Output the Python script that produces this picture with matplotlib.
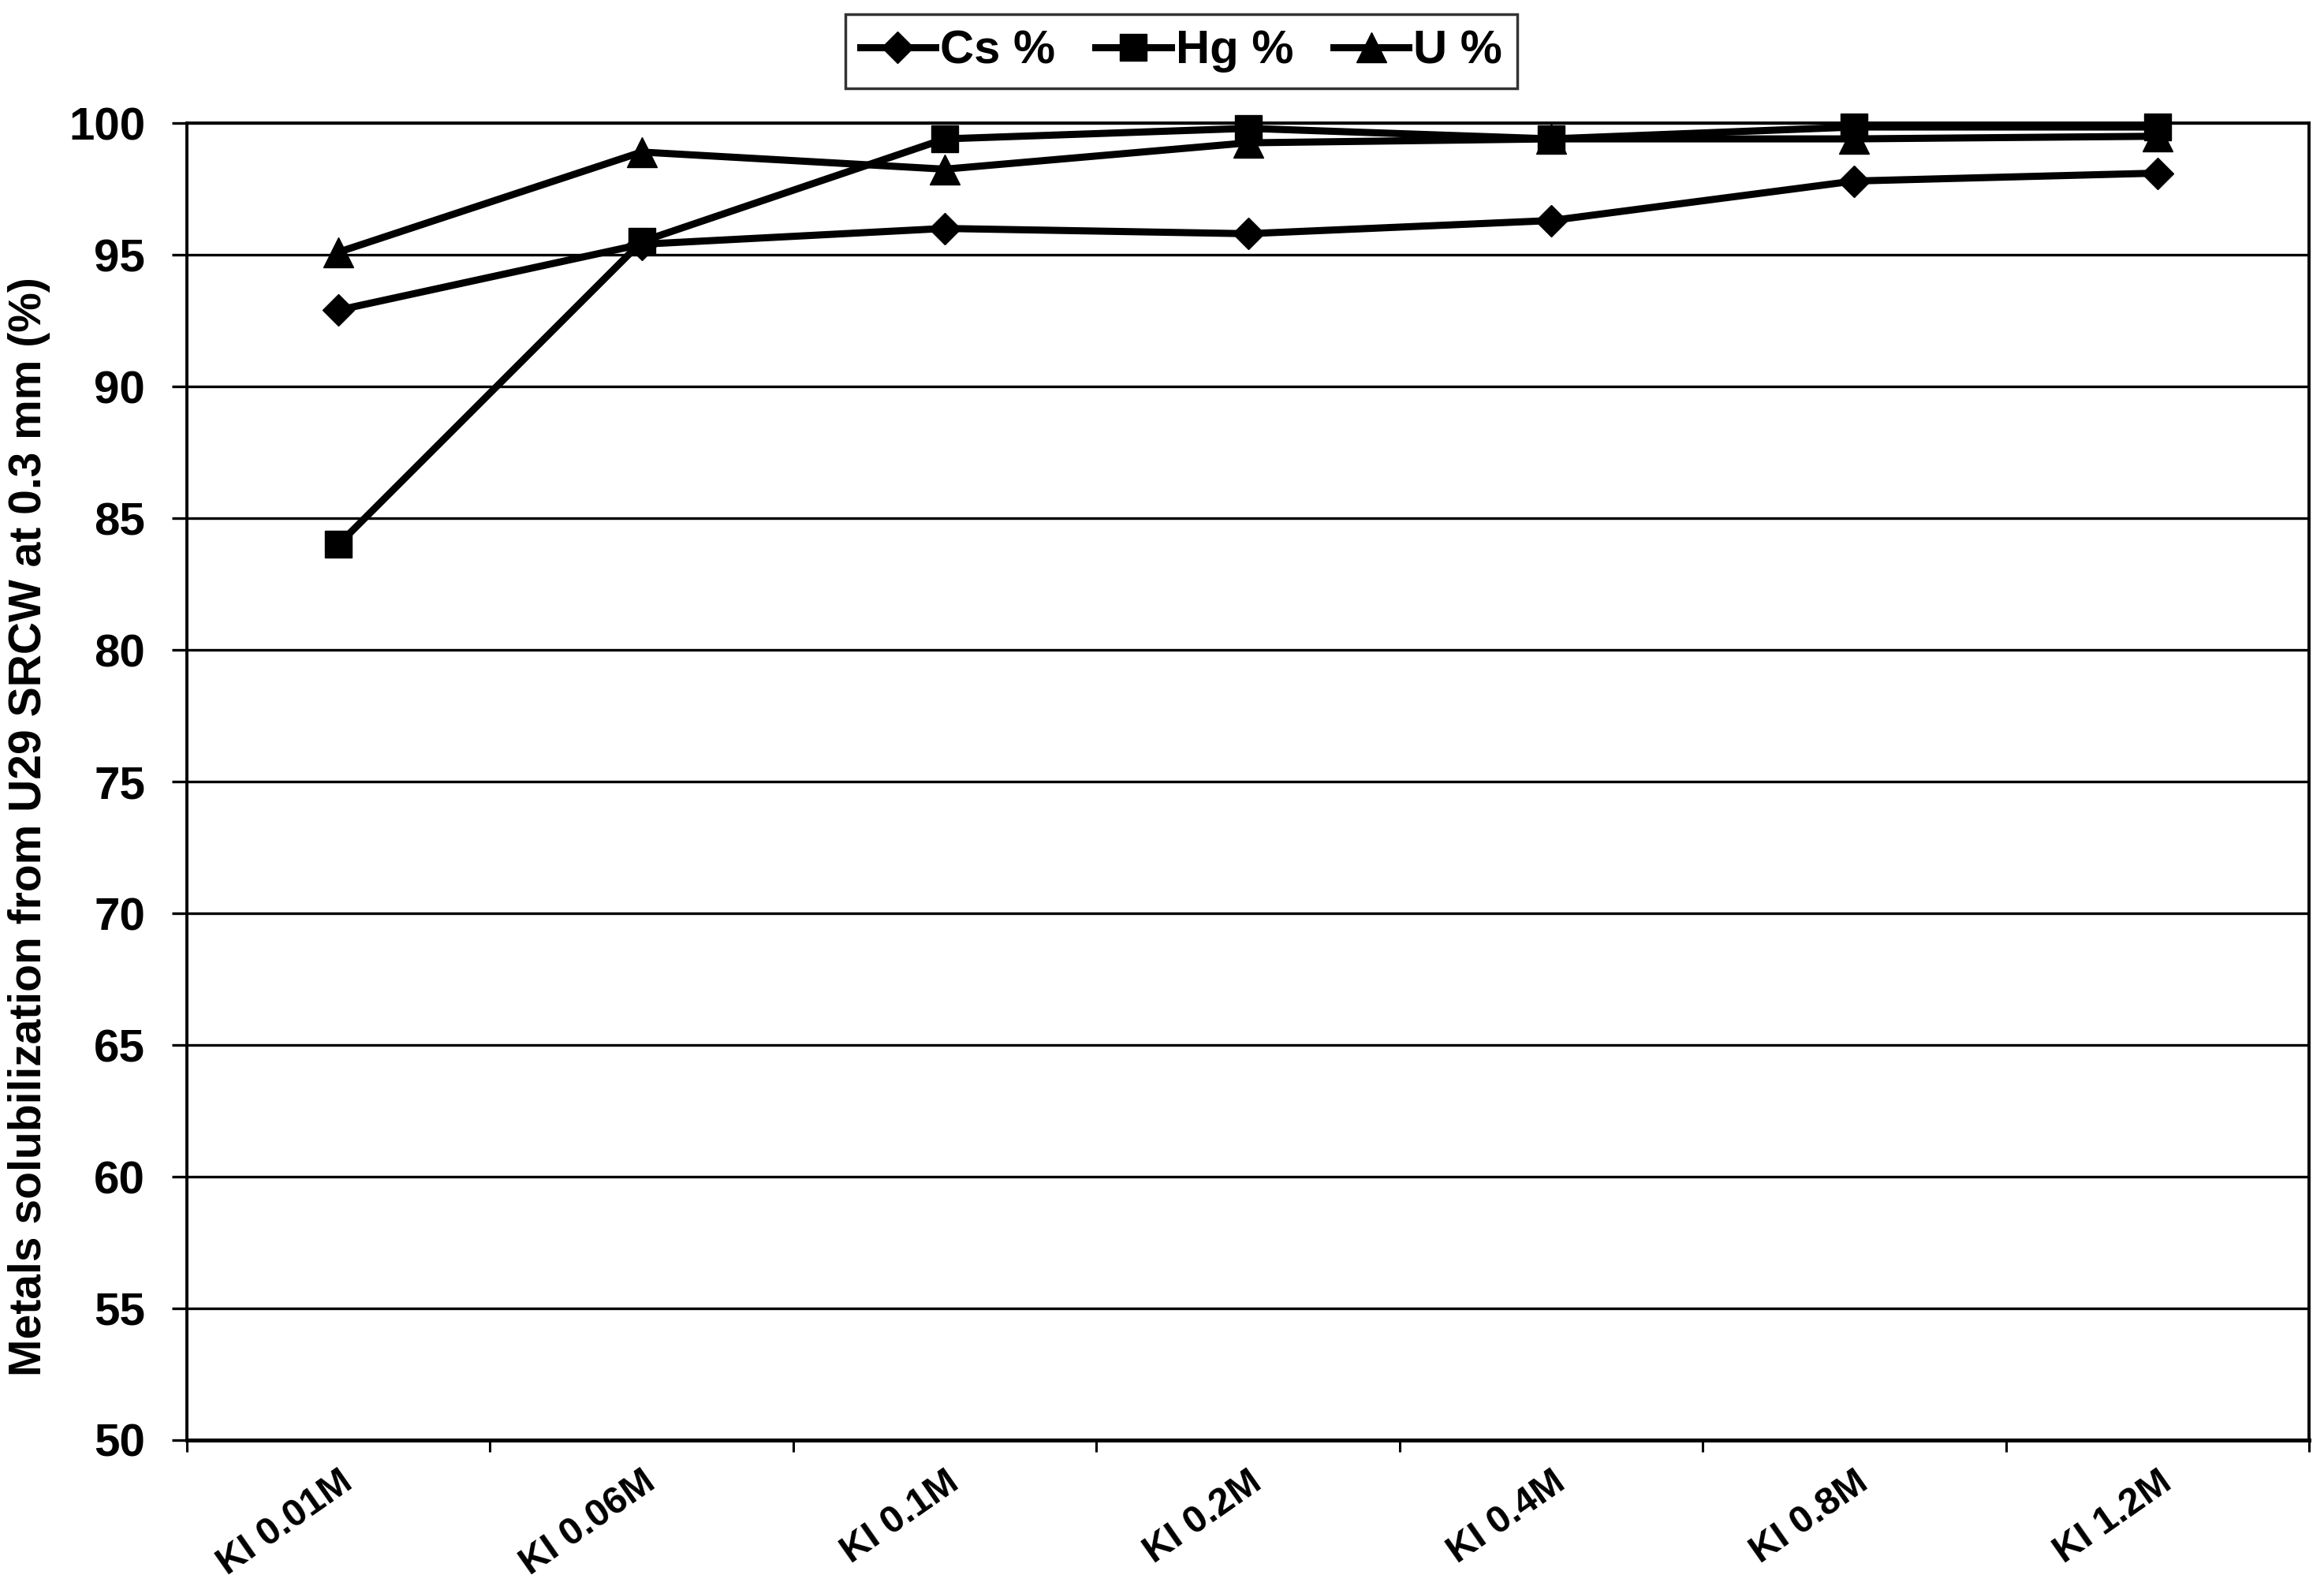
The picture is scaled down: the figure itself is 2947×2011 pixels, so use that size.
import matplotlib
matplotlib.use("Agg")
import matplotlib.pyplot as plt
from matplotlib.ticker import FixedLocator, MultipleLocator

plt.rcParams['font.family'] = ['Liberation Sans', 'DejaVu Sans']
plt.rcParams['font.weight'] = 'bold'

# KI concentrations on the x axis
categories = ['KI 0.01M', 'KI 0.06M', 'KI 0.1M', 'KI 0.2M', 'KI 0.4M', 'KI 0.8M', 'KI 1.2M']

# solubilization (%)
cs_pct = [92.9, 95.4, 96.0, 95.8, 96.3, 97.8, 98.1]
hg_pct = [84.0, 95.5, 99.4, 99.8, 99.4, 99.85, 99.85]
u_pct = [95.1, 98.9, 98.25, 99.25, 99.4, 99.4, 99.5]

fig = plt.figure(figsize=(29.47, 20.11), dpi=100)
ax = fig.add_axes([0.0804, 0.092, 0.9132, 0.8304])

x = list(range(len(categories)))
lw = 6.5
ax.plot(x, cs_pct, color='black', lw=lw, marker='D', ms=20, label='Cs %', clip_on=False, zorder=3)
ax.plot(x, hg_pct, color='black', lw=lw, marker='s', ms=25, label='Hg %', clip_on=False, zorder=3)
ax.plot(x, u_pct, color='black', lw=lw, marker='^', ms=27, label='U %', clip_on=False, zorder=3)

ax.set_xlim(-0.5, len(categories) - 0.5)
ax.set_ylim(50, 100)
ax.yaxis.set_major_locator(MultipleLocator(5))
ax.grid(axis='y', color='black', lw=2.4, zorder=1)

# category labels centred, tick marks between categories (Excel style)
ax.set_xticks(x)
ax.set_xticklabels(categories, rotation=35, ha='right', va='top', rotation_mode='anchor',
                   fontsize=35, fontweight='bold')
ax.xaxis.set_minor_locator(FixedLocator([i - 0.5 for i in range(len(categories) + 1)]))
ax.tick_params(axis='x', which='major', length=0, pad=22)
ax.tick_params(axis='x', which='minor', length=11, width=2.2, direction='out')
ax.tick_params(axis='y', length=14, width=2.4, direction='out', pad=24, labelsize=42)
for lab in ax.get_yticklabels():
    lab.set_fontweight('bold')

for side in ['left', 'top', 'right']:
    ax.spines[side].set_linewidth(2.8)
ax.spines['bottom'].set_linewidth(3.6)

fig.text(0.0126, 0.479, 'Metals solubilization from U29 SRCW at 0.3 mm (%)',
         rotation=90, ha='center', va='center', fontsize=41, fontweight='bold')

leg = ax.legend(loc='center', bbox_to_anchor=(0.5083, 0.9677), bbox_transform=fig.transFigure,
                ncol=3, frameon=True, fancybox=False, edgecolor='black',
                prop={'size': 43, 'weight': 'bold'}, handlelength=1.6, handletextpad=0.1,
                columnspacing=0.85, borderpad=0.32, borderaxespad=0)
leg.get_frame().set_linewidth(2.5)

fig.savefig('out.png', dpi=100, facecolor='white')
